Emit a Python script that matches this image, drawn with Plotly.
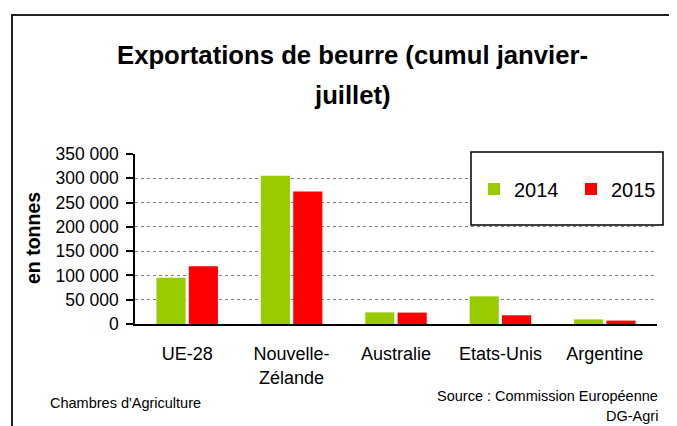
import plotly.graph_objects as go

categories = ["UE-28", "Nouvelle-<br>Zélande", "Australie", "Etats-Unis", "Argentine"]
values_2014 = [95000, 305000, 24000, 57000, 9500]
values_2015 = [119000, 273000, 23500, 18000, 7000]
series_names = ["2014", "2015"]
colors = ["#99CC00", "#FF0000"]
y_ticks = [0, 50000, 100000, 150000, 200000, 250000, 300000, 350000]

W, H = 677, 426
OFF = 8  # page body margin
PW, PH = 522, 170
ML, MT = 135 - OFF, 154 - OFF
MR, MB = W - ML - PW, H - MT - PH

def px(x):
    return (x - OFF - ML) / PW

def py(y):
    return (H - MB - (y - OFF)) / PH

FONT = "Liberation Sans, Arial, sans-serif"

fig = go.Figure()
for name, vals, col in zip(series_names, [values_2014, values_2015], colors):
    fig.add_trace(go.Bar(x=categories, y=vals, name=name, marker=dict(color=col, line=dict(width=0))))

fig.update_layout(
    width=W, height=H,
    margin=dict(l=ML, r=MR, t=MT, b=MB, pad=0, autoexpand=False),
    paper_bgcolor="white", plot_bgcolor="white",
    barmode="group", bargap=0.38, bargroupgap=0.1,
    separators=", ",
    font=dict(family=FONT, color="black"),
    showlegend=True,
    legend=dict(orientation="h", x=px(474), xanchor="left", y=py(189), yanchor="middle",
                font=dict(size=20, family=FONT), bgcolor="rgba(0,0,0,0)", borderwidth=0,
                entrywidth=52, itemsizing="constant"),
    xaxis=dict(type="category", showline=True, linecolor="black", linewidth=1.5,
               ticks="", tickfont=dict(size=18, family=FONT), ticklabelstandoff=13,
               tickangle=0, automargin=False,
               showgrid=False, zeroline=False, range=[-0.5, 4.5]),
    xaxis2=dict(overlaying="x", anchor="y", range=[-0.5, 4.5], tickvals=[-0.5, 1.5, 3.5],
                ticks="outside", ticklen=7, tickwidth=1.5, tickcolor="black",
                showticklabels=False, showgrid=False, zeroline=False, showline=False),
    yaxis=dict(range=[0, 350000], tickvals=y_ticks, tickformat=",.0f",
               showline=True, linecolor="black", linewidth=1.5,
               ticks="outside", ticklen=7, tickwidth=1.5, tickcolor="black",
               tickfont=dict(size=17.5, family=FONT), automargin=False, ticklabelstandoff=4,
               showgrid=True, gridcolor="#808080", gridwidth=1, griddash="dot",
               zeroline=False),
)

# legend frame
fig.add_shape(type="rect", xref="paper", yref="paper",
              x0=px(471), x1=px(663), y0=py(225), y1=py(152),
              line=dict(color="black", width=1.5), fillcolor="white", layer="above")
# outer border
fig.add_shape(type="rect", xref="paper", yref="paper",
              x0=px(12), x1=px(720), y0=py(470), y1=py(15),
              line=dict(color="#222222", width=2), fillcolor="rgba(0,0,0,0)", layer="above")

anns = [
    dict(text="<b>Exportations de beurre (cumul janvier-</b>", x=px(352), y=py(55), size=25.7),
    dict(text="<b>juillet)</b>", x=px(352), y=py(95), size=25.7),
]
for a in anns:
    fig.add_annotation(text=a["text"], xref="paper", yref="paper", x=a["x"], y=a["y"],
                       xanchor="center", yanchor="middle", showarrow=False,
                       font=dict(size=a["size"], family=FONT, color="black"))

fig.add_annotation(text="<b>en tonnes</b>", xref="paper", yref="paper", x=px(33), y=py(238),
                   textangle=-90, showarrow=False, xanchor="center", yanchor="middle",
                   font=dict(size=19.5, family=FONT, color="black"))
fig.add_annotation(text="Chambres d'Agriculture", xref="paper", yref="paper", x=px(48), y=py(403),
                   xanchor="left", yanchor="middle", showarrow=False,
                   font=dict(size=14.5, family=FONT, color="black"))
fig.add_annotation(text="Source : Commission Européenne", xref="paper", yref="paper", x=px(660), y=py(396),
                   xanchor="right", yanchor="middle", showarrow=False,
                   font=dict(size=14.5, family=FONT, color="black"))
fig.add_annotation(text="DG-Agri", xref="paper", yref="paper", x=px(660), y=py(416),
                   xanchor="right", yanchor="middle", showarrow=False,
                   font=dict(size=14.5, family=FONT, color="black"))

fig.write_html("out.html")
